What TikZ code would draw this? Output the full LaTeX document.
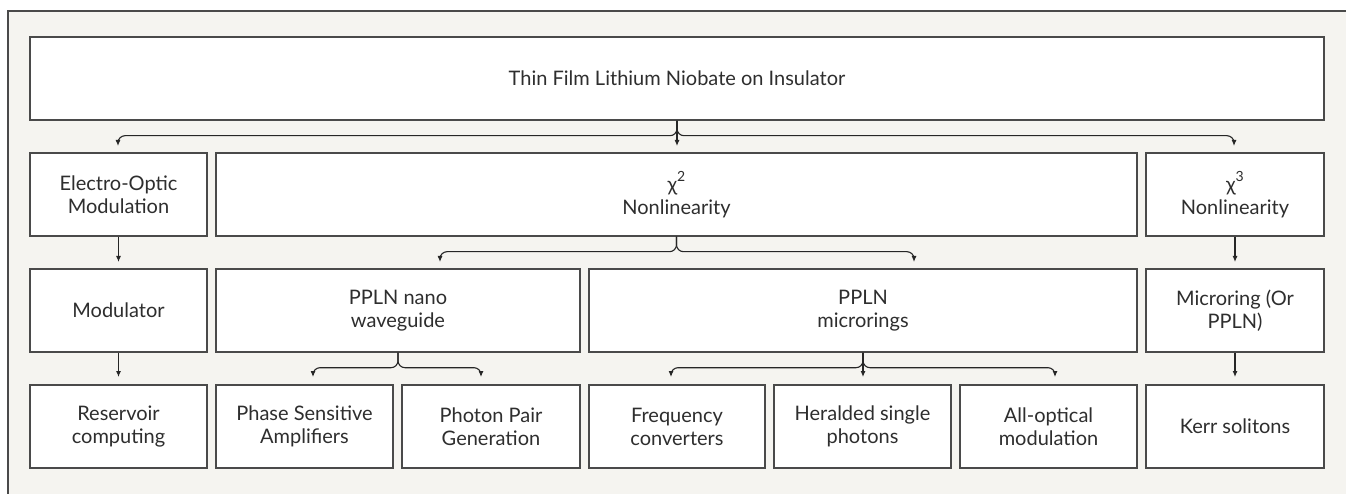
\documentclass[tikz,border=0pt]{standalone}
\usepackage{fontspec}
\setmainfont{Lato}
\usetikzlibrary{arrows.meta}
\definecolor{bgc}{HTML}{F5F4F0}
\definecolor{edge}{HTML}{4A4A4A}
\definecolor{txt}{HTML}{2E2E2E}
\newcommand{\supnum}[1]{\raisebox{0.5em}{\fontsize{14}{14}\selectfont #1}}
\tikzset{
  box/.style={draw=edge, line width=1.4pt, fill=white, align=center, text=txt,
    minimum height=83pt, inner sep=0pt, font=\fontsize{20}{23}\selectfont},
  conn/.style={draw=black!85, line width=1.1pt, rounded corners=7pt,
    -{Latex[length=6pt,width=5pt]}},
}
\begin{document}
\begin{tikzpicture}[x=1pt,y=-1pt]
\useasboundingbox (0,0) rectangle (1346,494);
\fill[bgc] (8,11) rectangle (1346,494);
\draw[edge, line width=1.2pt] (8,494) -- (8,11) -- (1346,11);

% row 1
\node[box, minimum width=1294pt] (top) at (677,78.5) {Thin Film Lithium Niobate on Insulator};
% row 2
\node[box, minimum width=177pt] (eo) at (118.5,194.5) {Electro-Optic\\Modulation};
\node[box, minimum width=921pt] (chi2) at (676.5,194.5) {χ\supnum{2}\\Nonlinearity};
\node[box, minimum width=178pt] (chi3) at (1235,194.5) {χ\supnum{3}\\Nonlinearity};
% row 3
\node[box, minimum width=177pt] (mod) at (118.5,310.5) {Modulator};
\node[box, minimum width=364pt] (nano) at (398,310.5) {PPLN nano\\waveguide};
\node[box, minimum width=548pt] (rings) at (863,310.5) {PPLN\\microrings};
\node[box, minimum width=178pt] (mring) at (1235,310.5) {Microring (Or\\PPLN)};
% row 4
\node[box, minimum width=177pt] (res) at (118.5,426.5) {Reservoir\\computing};
\node[box, minimum width=177pt] (psa) at (304.5,426.5) {Phase Sensitive\\Amplifiers};
\node[box, minimum width=178pt] (ppg) at (491,426.5) {Photon Pair\\Generation};
\node[box, minimum width=176pt] (freq) at (677,426.5) {Frequency\\converters};
\node[box, minimum width=177pt] (her) at (862.5,426.5) {Heralded single\\photons};
\node[box, minimum width=177pt] (aop) at (1048.5,426.5) {All-optical\\modulation};
\node[box, minimum width=178pt] (kerr) at (1235,426.5) {Kerr solitons};

% tip coordinates
\coordinate (a1) at (118,146);
\coordinate (a2) at (677,146);
\coordinate (a3) at (1234,146);
\coordinate (b1) at (118.5,262);
\coordinate (b2) at (440,262);
\coordinate (b3) at (914,262);
\coordinate (b4) at (1235,262);
\coordinate (c1) at (118.5,377);
\coordinate (c2) at (313,377);
\coordinate (c3) at (481,377);
\coordinate (c4) at (671,377);
\coordinate (c5) at (863,377);
\coordinate (c6) at (1055,377);
\coordinate (c7) at (1235,377);

% connectors
\draw[conn] (top.south) -- ++(0,15) -| (a1);
\draw[conn] (top.south) -- (a2);
\draw[conn] (top.south) -- ++(0,15) -| (a3);

\draw[conn] (eo.south) -- (b1);
\draw[conn] (chi2.south) -- ++(0,15) -| (b2);
\draw[conn] (chi2.south) -- ++(0,15) -| (b3);
\draw[conn] (chi3.south) -- (b4);

\draw[conn] (mod.south) -- (c1);
\draw[conn] (nano.south) -- ++(0,15) -| (c2);
\draw[conn] (nano.south) -- ++(0,15) -| (c3);
\draw[conn] (rings.south) -- ++(0,15) -| (c4);
\draw[conn] (rings.south) -- (c5);
\draw[conn] (rings.south) -- ++(0,15) -| (c6);
\draw[conn] (mring.south) -- (c7);
\end{tikzpicture}
\end{document}
